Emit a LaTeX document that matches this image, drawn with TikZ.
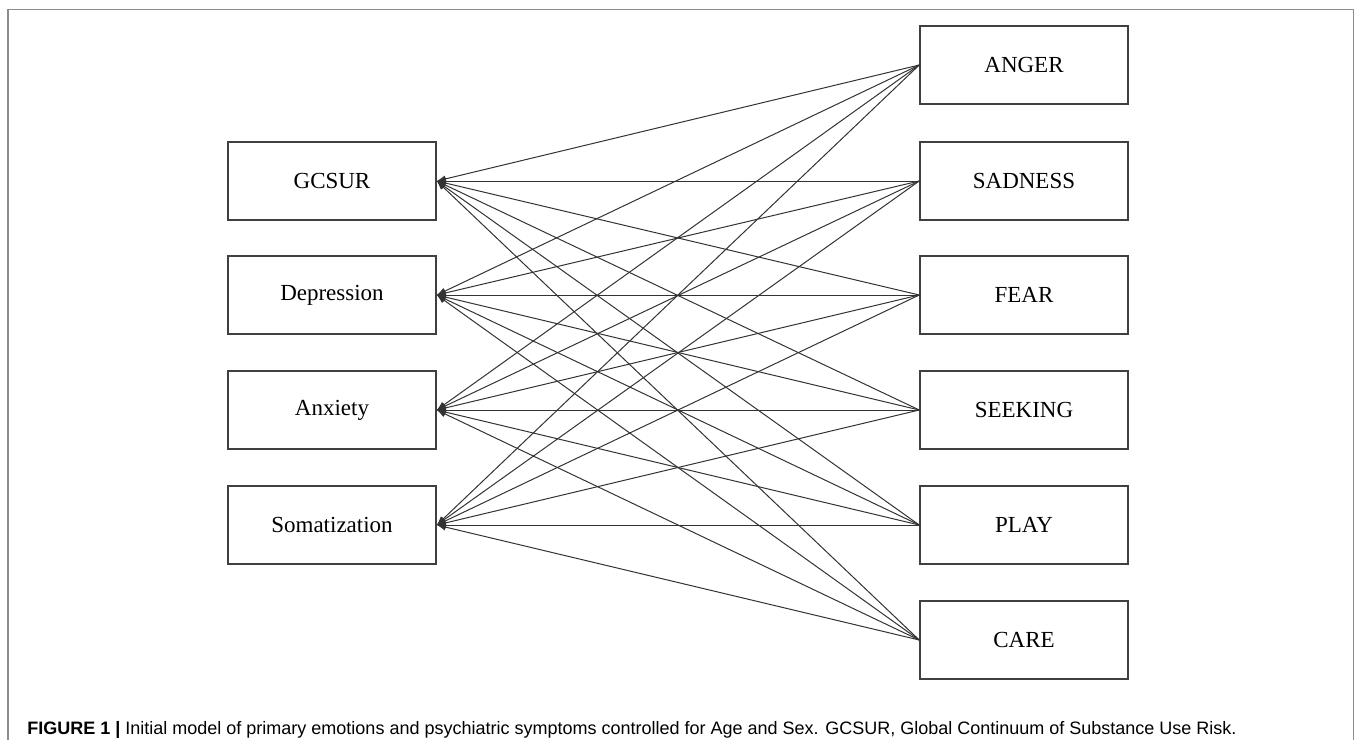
\documentclass[tikz,border=0pt]{standalone}
\usepackage{fontspec}
\setmainfont{Liberation Serif}
\newfontfamily\capfont{Liberation Sans}
\usetikzlibrary{arrows.meta}

\tikzset{
  varbox/.style={draw=black!75, line width=0.75pt, minimum width=104pt, minimum height=39pt,
    inner sep=0pt, font=\fontsize{11.5}{13}\selectfont},
  path/.style={draw=black!80, line width=0.5pt, -{Latex[length=4.5pt,width=3.5pt]}}
}

\begin{document}
\begin{tikzpicture}[x=0.5pt, y=-0.5pt]
    \useasboundingbox (0,0) rectangle (1355,740);
    % frame
    \draw[black!45, line width=0.75pt] (8,740) -- (8,9.5) -- (1353.5,9.5) -- (1353.5,740);
    % symptoms
    \foreach \n/\t/\y in {gcsur/GCSUR/181, dep/Depression/295, anx/Anxiety/410, som/Somatization/525}
    \node[varbox] (\n) at (332,\y) {\t};
    % emotions
    \foreach \n/\t/\y in {anger/ANGER/65, sad/SADNESS/181, fear/FEAR/295, seek/SEEKING/410, play/PLAY/525, care/CARE/640}
    \node[varbox] (\n) at (1024,\y) {\t};
    % paths
    \foreach \a in {gcsur, dep, anx, som}
    \foreach \b in {anger, sad, fear, seek, play, care}
    \draw[path] (\b.west) -- (\a.east);
    % caption
    \node[anchor=base west, inner sep=0pt, font=\capfont\fontsize{9}{10}\selectfont] (caption) at (27,734)
      {\textbf{FIGURE 1 |} Initial model of primary emotions and psychiatric symptoms controlled for Age and Sex. GCSUR, Global Continuum of Substance Use Risk.};
\end{tikzpicture}
\end{document}
